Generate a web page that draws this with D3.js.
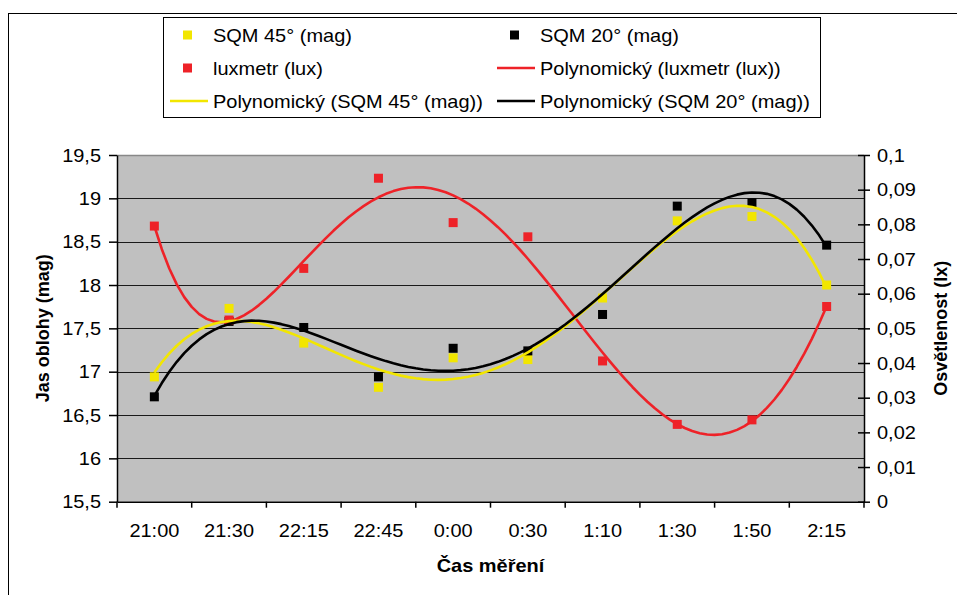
<!DOCTYPE html>
<html>
<head>
<meta charset="utf-8">
<script src="https://cdn.jsdelivr.net/npm/d3@7/dist/d3.min.js"></script>
<style>
  html, body { margin: 0; padding: 0; background: #fff; }
  svg { display: block; font-family: "Liberation Sans", Arial, sans-serif; }
</style>
</head>
<body>
<svg id="chart" width="957" height="595"></svg>
<script>
// Measurement times (categories)
const categories = ["21:00", "21:30", "22:15", "22:45", "0:00", "0:30", "1:10", "1:30", "1:50", "2:15"];
// Sky brightness from the SQM meter pointed 45° and 20° above horizon (mag)
const sqm45 = [16.94, 17.73, 17.33, 16.82, 17.16, 17.14, 17.85, 18.74, 18.79, 18.00];
const sqm20 = [16.71, 17.58, 17.51, 16.94, 17.27, 17.24, 17.66, 18.91, 18.95, 18.46];
// Illuminance from the lux meter (lx)
const luxmetr = [0.0795, 0.0524, 0.0673, 0.0933, 0.0805, 0.0764, 0.0406, 0.0223, 0.0236, 0.0563];
// Axis tick values
const leftTicks = [15.5, 16, 16.5, 17, 17.5, 18, 18.5, 19, 19.5];
const rightTicks = [0, 0.01, 0.02, 0.03, 0.04, 0.05, 0.06, 0.07, 0.08, 0.09, 0.1];
// Orders of the polynomial trendlines
const degreeSqm = 4;
const degreeLux = 6;

const COL = { yellow: "#f2e600", black: "#000000", red: "#ee2228", plot: "#c0c0c0" };
const FONT = 18, SX = 1.11;

const svg = d3.select("#chart");
const M = { left: 117, right: 864, top: 155, bottom: 501.7 };

// Czech number format: decimal comma
const cz = d3.formatLocale({ decimal: ",", thousands: " ", grouping: [3], currency: ["", " Kč"] });
const fmt = v => cz.format("~g")(+v.toFixed(4));

const xBand = d3.scaleBand().domain(categories).range([M.left, M.right]).padding(0);
const xNum = d3.scaleLinear().domain([0.5, categories.length + 0.5]).range([M.left, M.right]);
const yL = d3.scaleLinear().domain([15.5, 19.5]).range([M.bottom, M.top]);
const yR = d3.scaleLinear().domain([0, 0.1]).range([M.bottom, M.top]);

// Text with the slightly wide letterforms of the chart
function label(g, x, y, str, anchor, weight) {
  return g.append("text")
    .attr("transform", `translate(${x},${y}) scale(${SX},1)`)
    .attr("text-anchor", anchor || "start")
    .attr("font-size", FONT)
    .attr("font-weight", weight || "normal")
    .attr("fill", "#000")
    .text(str);
}

// Outer chart frame
svg.append("rect").attr("x", 8.5).attr("y", 13.5).attr("width", 980).attr("height", 620)
  .attr("fill", "#fff").attr("stroke", "#000").attr("stroke-width", 1);

// Plot area
svg.append("rect").attr("x", M.left).attr("y", M.top)
  .attr("width", M.right - M.left).attr("height", M.bottom - M.top)
  .attr("fill", COL.plot);

// Horizontal gridlines at the left-axis ticks
svg.append("g").selectAll("line").data(leftTicks.slice(1, -1)).join("line")
  .attr("x1", M.left).attr("x2", M.right)
  .attr("y1", d => Math.round(yL(d)) + 0.5).attr("y2", d => Math.round(yL(d)) + 0.5)
  .attr("stroke", "#1a1a1a").attr("stroke-width", 1.2);
svg.append("line").attr("x1", M.left).attr("x2", M.right)
  .attr("y1", M.top + 0.5).attr("y2", M.top + 0.5).attr("stroke", "#888").attr("stroke-width", 1.5);

// Left axis
const gL = svg.append("g").attr("transform", `translate(${M.left},0)`)
  .call(d3.axisLeft(yL).tickValues(leftTicks).tickSizeInner(8).tickSizeOuter(0).tickFormat(""));
gL.select(".domain").attr("stroke", "#000").attr("stroke-width", 1.5);
gL.selectAll(".tick line").attr("stroke", "#000").attr("stroke-width", 1.5);
leftTicks.forEach(v => label(svg, M.left - 16, yL(v) + 6.5, fmt(v), "end"));

// Right axis (ticks cross the axis line)
const gR = svg.append("g").attr("transform", `translate(${M.right},0)`)
  .call(d3.axisRight(yR).tickValues(rightTicks).tickSizeInner(6).tickSizeOuter(0).tickFormat(""));
gR.select(".domain").attr("stroke", "#000").attr("stroke-width", 1.5);
gR.selectAll(".tick line").attr("x1", -6).attr("stroke", "#000").attr("stroke-width", 1.5);
rightTicks.forEach(v => label(svg, M.right + 13, yR(v) + 6.5, fmt(v), "start"));

// Bottom category axis: ticks between categories, labels centered
const gB = svg.append("g").attr("transform", `translate(0,${M.bottom})`)
  .call(d3.axisBottom(xBand).tickSize(0).tickFormat(""));
gB.select(".domain").attr("stroke", "#000").attr("stroke-width", 1.5);
const boundaries = categories.map(c => xBand(c)).concat([xBand.range()[1]]);
gB.selectAll("line.sep").data(boundaries).join("line").attr("class", "sep")
  .attr("x1", d => d).attr("x2", d => d).attr("y1", 0).attr("y2", 6)
  .attr("stroke", "#000").attr("stroke-width", 1.5);
categories.forEach(c => label(svg, xBand(c) + xBand.bandwidth() / 2, M.bottom + 35, c, "middle"));

// Axis titles
svg.append("text").attr("transform", `translate(49,${(M.top + M.bottom) / 2}) rotate(-90)`)
  .attr("text-anchor", "middle").attr("font-size", FONT).attr("font-weight", "bold").text("Jas oblohy (mag)");
svg.append("text").attr("transform", `translate(947,${(M.top + M.bottom) / 2}) rotate(-90)`)
  .attr("text-anchor", "middle").attr("font-size", FONT).attr("font-weight", "bold").text("Osvětlenost (lx)");
label(svg, (M.left + M.right) / 2, 572, "Čas měření", "middle", "bold");

// Least-squares polynomial trendline
function polyfit(xs, ys, deg) {
  const c = 5.5, s = 4.5, n = deg + 1;
  const A = Array.from({ length: n }, () => new Array(n + 1).fill(0));
  xs.forEach((x, k) => {
    const t = (x - c) / s;
    const p = d3.range(n).map(i => Math.pow(t, i));
    for (let i = 0; i < n; i++) {
      for (let j = 0; j < n; j++) A[i][j] += p[i] * p[j];
      A[i][n] += p[i] * ys[k];
    }
  });
  for (let i = 0; i < n; i++) {
    let piv = i;
    for (let r = i + 1; r < n; r++) if (Math.abs(A[r][i]) > Math.abs(A[piv][i])) piv = r;
    [A[i], A[piv]] = [A[piv], A[i]];
    for (let r = 0; r < n; r++) {
      if (r === i) continue;
      const f = A[r][i] / A[i][i];
      for (let j = i; j <= n; j++) A[r][j] -= f * A[i][j];
    }
  }
  const coef = A.map((row, i) => row[n] / row[i]);
  return x => { const t = (x - c) / s; return coef.reduce((acc, a, i) => acc + a * Math.pow(t, i), 0); };
}

const idx = categories.map((_, i) => i + 1);
const samples = d3.range(1, categories.length + 0.0001, 0.1);
const series = [
  { values: sqm45, y: yL, color: COL.yellow, deg: degreeSqm },
  { values: sqm20, y: yL, color: COL.black, deg: degreeSqm },
  { values: luxmetr, y: yR, color: COL.red, deg: degreeLux }
];

// Markers
const plot = svg.append("g");
series.forEach(s => {
  plot.append("g").selectAll("rect").data(s.values).join("rect")
    .attr("x", (d, i) => xNum(i + 1) - 4.5).attr("y", d => s.y(d) - 4.5)
    .attr("width", 9).attr("height", 9).attr("fill", s.color);
});

// Trendlines
[series[2], series[0], series[1]].forEach(s => {
  const f = polyfit(idx, s.values, s.deg);
  const line = d3.line().x(d => xNum(d)).y(d => s.y(f(d)));
  plot.append("path").datum(samples).attr("d", line)
    .attr("fill", "none").attr("stroke", s.color).attr("stroke-width", 2.6)
    .attr("stroke-linejoin", "round");
});

// Legend
const lg = svg.append("g");
lg.append("rect").attr("x", 163.5).attr("y", 17.5).attr("width", 657).attr("height", 100)
  .attr("fill", "#fff").attr("stroke", "#000").attr("stroke-width", 1);
const rows = [35, 68, 101];
const legendItems = [
  { type: "mark", color: COL.yellow, text: "SQM 45° (mag)", col: 0, row: 0 },
  { type: "mark", color: COL.black, text: "SQM 20° (mag)", col: 1, row: 0 },
  { type: "mark", color: COL.red, text: "luxmetr (lux)", col: 0, row: 1 },
  { type: "line", color: COL.red, text: "Polynomický (luxmetr (lux))", col: 1, row: 1 },
  { type: "line", color: COL.yellow, text: "Polynomický (SQM 45° (mag))", col: 0, row: 2 },
  { type: "line", color: COL.black, text: "Polynomický (SQM 20° (mag))", col: 1, row: 2 }
];
const colX = [213, 540];
legendItems.forEach(it => {
  const tx = colX[it.col], cy = rows[it.row];
  if (it.type === "mark") {
    lg.append("rect").attr("x", tx - 30).attr("y", cy - 4.5).attr("width", 9).attr("height", 9).attr("fill", it.color);
  } else {
    lg.append("line").attr("x1", tx - 43).attr("x2", tx - 5).attr("y1", cy).attr("y2", cy)
      .attr("stroke", it.color).attr("stroke-width", 2.6);
  }
  label(lg, tx, cy + 6.5, it.text, "start");
});
</script>
</body>
</html>
